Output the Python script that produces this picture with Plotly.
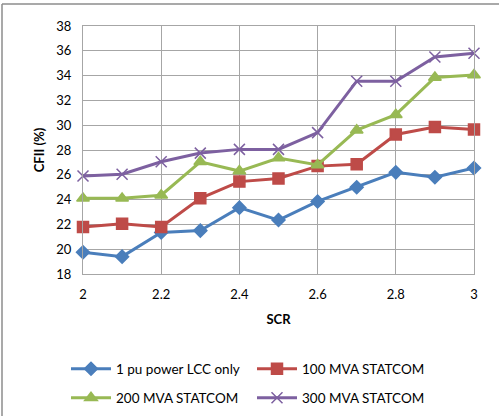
import plotly.graph_objects as go

scr = [2.0, 2.1, 2.2, 2.3, 2.4, 2.5, 2.6, 2.7, 2.8, 2.9, 3.0]
lcc_only = [19.75, 19.4, 21.35, 21.5, 23.35, 22.35, 23.85, 25.0, 26.2, 25.8, 26.55]
statcom_100 = [21.8, 22.05, 21.8, 24.1, 25.45, 25.7, 26.7, 26.85, 29.25, 29.85, 29.65]
statcom_200 = [24.1, 24.1, 24.35, 27.05, 26.3, 27.35, 26.8, 29.6, 30.85, 33.85, 34.05]
statcom_300 = [25.9, 26.05, 27.05, 27.75, 28.05, 28.05, 29.4, 33.55, 33.55, 35.5, 35.8]

names = ["1 pu power LCC only", "100 MVA STATCOM", "200 MVA STATCOM", "300 MVA STATCOM"]
colors = ["#4A7EBB", "#BE4B48", "#98B954", "#7D60A0"]
symbols = ["diamond", "square", "triangle-up", "x-thin-open"]
sizes = [10, 11, 11, 11]
legend_ids = ["legend", "legend2", "legend3", "legend4"]
series = [lcc_only, statcom_100, statcom_200, statcom_300]

FONT = "Lato, 'Open Sans', sans-serif"

fig = go.Figure()
for name, col, sym, sz, lg, ys in zip(names, colors, symbols, sizes, legend_ids, series):
    fig.add_trace(go.Scatter(
        x=scr, y=ys, name=name, mode="lines+markers",
        line=dict(color=col, width=3),
        marker=dict(symbol=sym, size=sz, color=col,
                    line=dict(color=col, width=1.5)),
        cliponaxis=False, legend=lg, showlegend=True,
    ))

axis_common = dict(
    showgrid=True, gridcolor="#A6A6A6", gridwidth=1,
    showline=True, linecolor="#A6A6A6", linewidth=1, mirror=True,
    zeroline=False, ticks="",
    tickfont=dict(family=FONT, size=13, color="#000000"),
)

legend_common = dict(orientation="h", xanchor="left", yanchor="middle",
                     font=dict(family=FONT, size=13.5), itemwidth=40,
                     bgcolor="rgba(0,0,0,0)")

PW, PH = 391, 248
col_x = [(66 - 83) / PW, (252 - 83) / PW]
row_y = [-(369 - 274) / PH, -(398 - 274) / PH]

fig.update_layout(
    width=499, height=416, showlegend=True,
    margin=dict(l=83, r=25, t=26, b=142, autoexpand=False),
    paper_bgcolor="white", plot_bgcolor="white",
    font=dict(family=FONT, size=13, color="#000000"),
    xaxis=dict(range=[2, 3], dtick=0.2, tick0=2, ticklabelstandoff=8,
               title=dict(text="<b>SCR</b>", font=dict(family=FONT, size=13), standoff=14),
               **axis_common),
    yaxis=dict(range=[18, 38], dtick=2, tick0=18, ticklabelstandoff=8,
               title=dict(text="<b>CFII (%)</b>", font=dict(family=FONT, size=13), standoff=8),
               **axis_common),
    legend=dict(x=col_x[0], y=row_y[0], **legend_common),
    legend2=dict(x=col_x[1], y=row_y[0], **legend_common),
    legend3=dict(x=col_x[0], y=row_y[1], **legend_common),
    legend4=dict(x=col_x[1], y=row_y[1], **legend_common),
    shapes=[
        dict(type="line", xref="paper", yref="paper",
             x0=-81 / PW, x1=1.2, y0=1 + 22 / PH, y1=1 + 22 / PH,
             line=dict(color="#8C8C8C", width=1.5)),
        dict(type="line", xref="paper", yref="paper",
             x0=-81 / PW, x1=-81 / PW, y0=-1, y1=1 + 22 / PH,
             line=dict(color="#8C8C8C", width=1.5)),
    ],
)

fig.write_html("out.html")
